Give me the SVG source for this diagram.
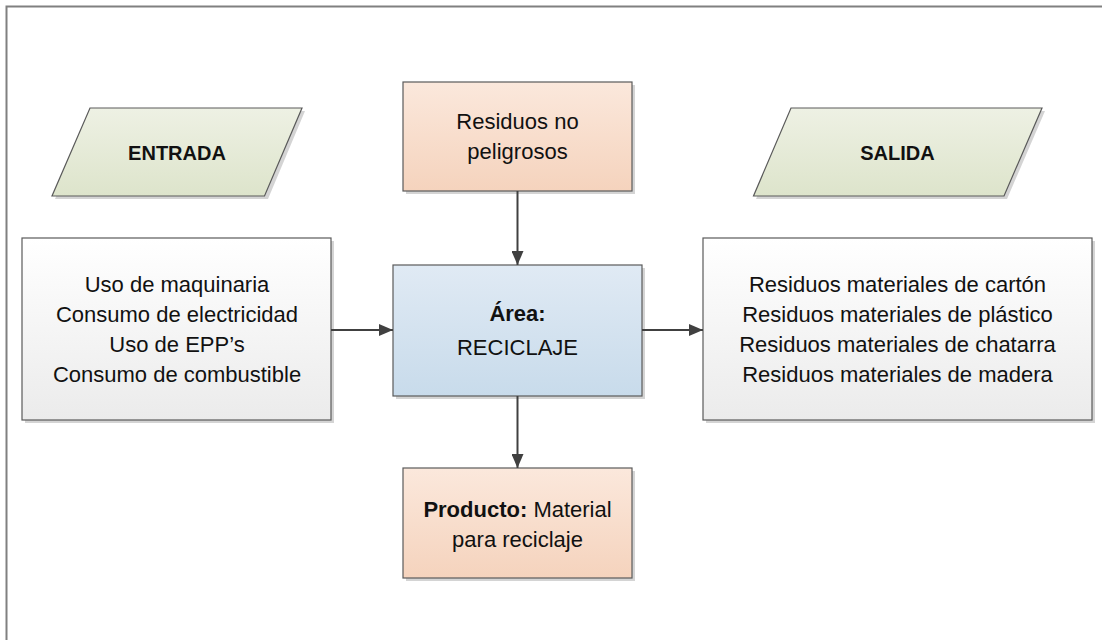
<svg xmlns="http://www.w3.org/2000/svg" width="1103" height="640" viewBox="0 0 1103 640">
<defs>
<linearGradient id="gGray" x1="0" y1="0" x2="0" y2="1"><stop offset="0" stop-color="#ffffff"/><stop offset="1" stop-color="#ebebeb"/></linearGradient>
<linearGradient id="gBlue" x1="0" y1="0" x2="0" y2="1"><stop offset="0" stop-color="#e0eaf4"/><stop offset="1" stop-color="#c8dbeb"/></linearGradient>
<linearGradient id="gOrange" x1="0" y1="0" x2="0" y2="1"><stop offset="0" stop-color="#fbe8dc"/><stop offset="1" stop-color="#f5d3bd"/></linearGradient>
<linearGradient id="gGreen" x1="0" y1="0" x2="0" y2="1"><stop offset="0" stop-color="#eef1e4"/><stop offset="1" stop-color="#dde4cb"/></linearGradient>
<marker id="arr" viewBox="0 0 14 12" refX="14" refY="6" markerWidth="14" markerHeight="12" markerUnits="userSpaceOnUse" orient="auto"><path d="M0,0 L14,6 L0,12 Z" fill="#404040"/></marker>
</defs>
<style>
.box{stroke:#5a5a5a;stroke-width:1.2}
.sh{fill:#d4d4d4}
.t{font-family:"Liberation Sans",Arial,sans-serif;font-size:22px;fill:#111;text-anchor:middle}
.b{font-weight:bold}
.h{font-family:"Liberation Sans",Arial,sans-serif;font-size:20px;font-weight:bold;fill:#111;text-anchor:middle}
.c{stroke:#404040;stroke-width:2;fill:none;marker-end:url(#arr)}
</style>
<rect width="1103" height="640" fill="#ffffff"/>
<path d="M6.5,640 V6.5 H1102" fill="none" stroke="#808080" stroke-width="2"/>

<g id="entrada">
<polygon class="sh" points="93,111 305,111 268,199 55,199"/>
<polygon class="box" fill="url(#gGreen)" points="90,108 302,108 264.5,196 52,196"/>
<text class="h" x="177" y="160">ENTRADA</text>
</g>

<g id="salida">
<polygon class="sh" points="794,111 1045,111 1007,199 756,199"/>
<polygon class="box" fill="url(#gGreen)" points="791,108 1042,108 1004,196 753.5,196"/>
<text class="h" x="897.5" y="160">SALIDA</text>
</g>

<g id="residuos">
<rect class="sh" x="406" y="85" width="229" height="109"/>
<rect class="box" fill="url(#gOrange)" x="403" y="82" width="229" height="109"/>
<text class="t" x="517.5" y="129">Residuos no</text>
<text class="t" x="517.5" y="159">peligrosos</text>
</g>

<g id="entradas">
<rect class="sh" x="25" y="241" width="309" height="182"/>
<rect class="box" fill="url(#gGray)" x="22" y="238" width="309" height="182"/>
<text class="t" x="177" y="292">Uso de maquinaria</text>
<text class="t" x="177" y="322">Consumo de electricidad</text>
<text class="t" x="177" y="352">Uso de EPP’s</text>
<text class="t" x="177" y="382">Consumo de combustible</text>
</g>

<g id="area">
<rect class="sh" x="396" y="268" width="249" height="131"/>
<rect class="box" fill="url(#gBlue)" x="393" y="265" width="249" height="131"/>
<text class="t b" x="517.5" y="321">Área:</text>
<text class="t" x="517.5" y="355">RECICLAJE</text>
</g>

<g id="salidas">
<rect class="sh" x="706" y="241" width="389" height="182"/>
<rect class="box" fill="url(#gGray)" x="703" y="238" width="389" height="182"/>
<text class="t" x="897.5" y="292">Residuos materiales de cartón</text>
<text class="t" x="897.5" y="322">Residuos materiales de plástico</text>
<text class="t" x="897.5" y="352">Residuos materiales de chatarra</text>
<text class="t" x="897.5" y="382">Residuos materiales de madera</text>
</g>

<g id="producto">
<rect class="sh" x="406" y="471" width="229" height="110"/>
<rect class="box" fill="url(#gOrange)" x="403" y="468" width="229" height="110"/>
<text class="t" x="517.5" y="517"><tspan class="b">Producto:</tspan> Material</text>
<text class="t" x="517.5" y="547">para reciclaje</text>
</g>

<g id="connectors">
<line class="c" x1="517.5" y1="191" x2="517.5" y2="265"/>
<line class="c" x1="331" y1="330" x2="393" y2="330"/>
<line class="c" x1="642" y1="330" x2="703" y2="330"/>
<line class="c" x1="517.5" y1="396" x2="517.5" y2="468"/>
</g>
</svg>
